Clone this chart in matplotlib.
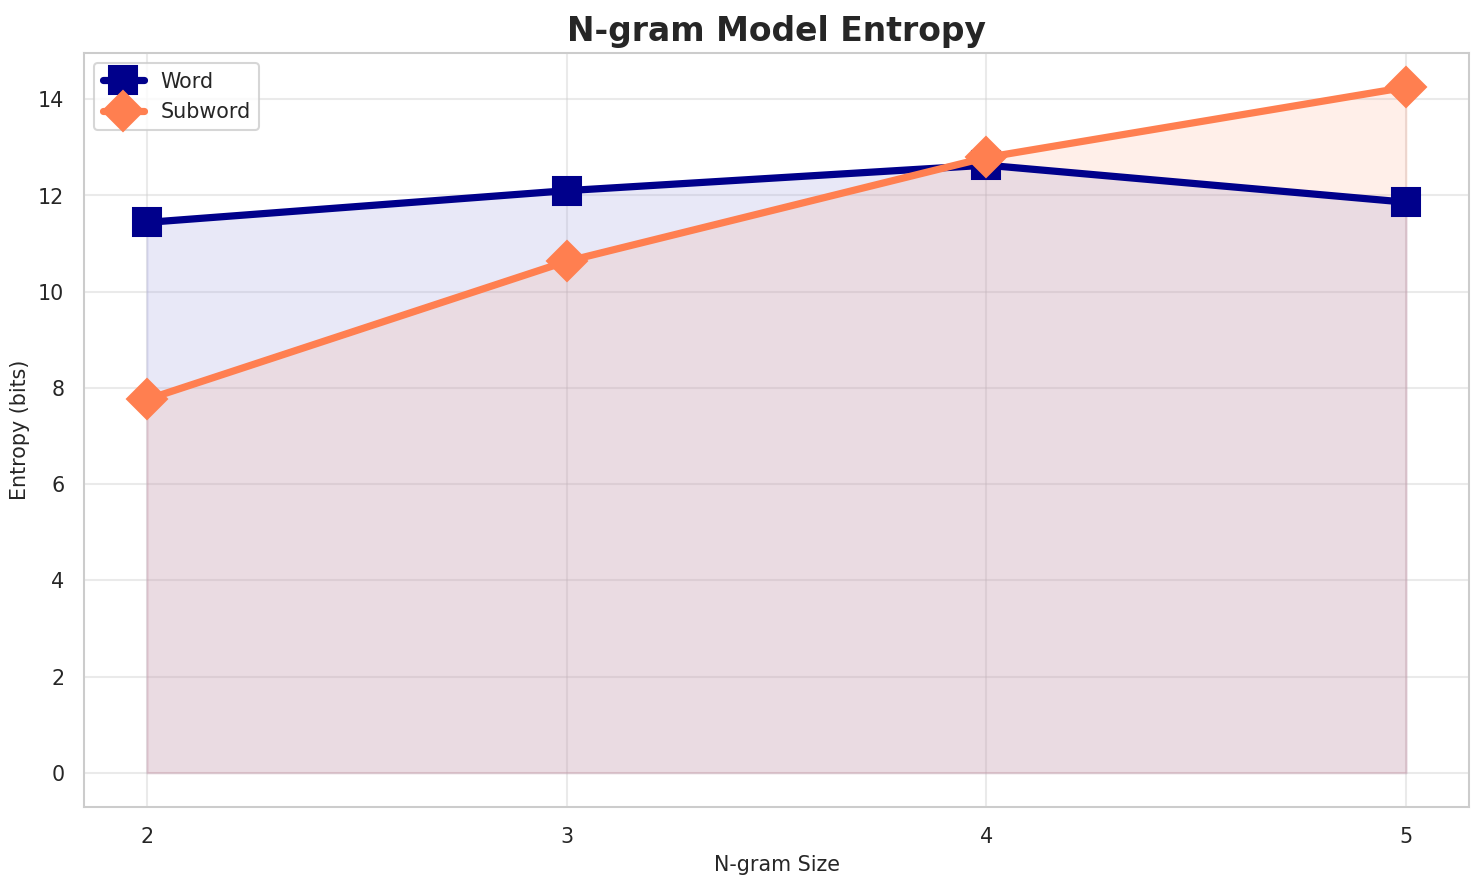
import matplotlib
matplotlib.use("Agg")
import matplotlib.pyplot as plt
import seaborn as sns

ngram_sizes = [2, 3, 4, 5]
word_entropy = [11.44, 12.1, 12.63, 11.86]
subword_entropy = [7.76, 10.63, 12.79, 14.25]

sns.set_theme(style="whitegrid")
plt.rcParams["font.family"] = ["DejaVu Sans"]

fig, ax = plt.subplots(figsize=(10, 5.964), dpi=148.4)

ax.plot(ngram_sizes, word_entropy, marker="s", markersize=14, linewidth=3.5,
        color="darkblue", label="Word")
ax.fill_between(ngram_sizes, word_entropy, color="#9999dd", alpha=0.22)

ax.plot(ngram_sizes, subword_entropy, marker="D", markersize=14, linewidth=3.5,
        color="coral", label="Subword")
ax.fill_between(ngram_sizes, subword_entropy, color="coral", alpha=0.12)

ax.set_title("N-gram Model Entropy", fontsize=16, fontweight="bold", pad=6)
ax.set_xlabel("N-gram Size", fontsize=10)
ax.set_ylabel("Entropy (bits)", fontsize=10)
ax.set_xticks(ngram_sizes)
ax.tick_params(labelsize=10)
ax.grid(True, alpha=0.4)
for spine in ax.spines.values():
    spine.set_edgecolor("#cccccc")
    spine.set_linewidth(1.0)
ax.legend(loc="upper left", fontsize=10)

fig.subplots_adjust(left=0.0566, right=0.9899, top=0.9401, bottom=0.0881)
plt.savefig("out.png", dpi=148.4)
